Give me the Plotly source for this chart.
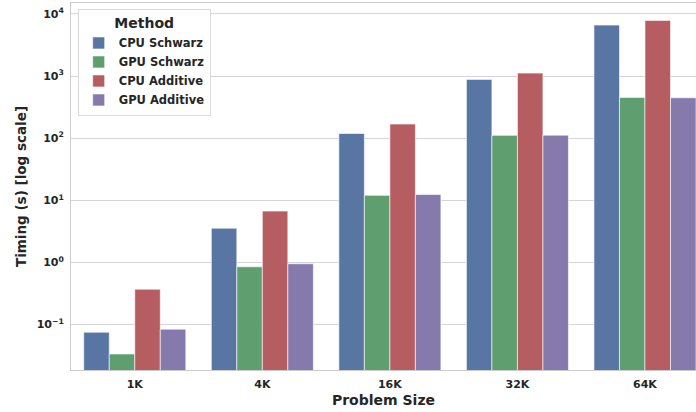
import plotly.graph_objects as go

categories = ["1K", "4K", "16K", "32K", "64K"]
methods = ["CPU Schwarz", "GPU Schwarz", "CPU Additive", "GPU Additive"]
cpu_schwarz = [0.075, 3.55, 119, 885, 6630]
gpu_schwarz = [0.0335, 0.85, 12.0, 111, 454]
cpu_additive = [0.37, 6.7, 169, 1117, 7890]
gpu_additive = [0.084, 0.95, 12.4, 112, 447]
series = [cpu_schwarz, gpu_schwarz, cpu_additive, gpu_additive]
colors = ["#5975A4", "#5F9E6E", "#B55D60", "#857AAB"]

ytickvals = [0.1, 1, 10, 100, 1000, 10000]
yticktext = ["10<sup>−1</sup>", "10<sup>0</sup>", "10<sup>1</sup>", "10<sup>2</sup>", "10<sup>3</sup>", "10<sup>4</sup>"]

FONT = "DejaVu Sans"
fig = go.Figure()
for name, vals, c in zip(methods, series, colors):
    fig.add_trace(go.Bar(
        x=list(range(len(categories))), y=vals, name=name,
        marker=dict(color=c, line=dict(color="rgba(255,255,255,0.6)", width=1)),
    ))

fig.update_layout(
    width=696, height=412,
    margin=dict(l=71, r=0, t=3, b=42, autoexpand=False),
    paper_bgcolor="white", plot_bgcolor="white",
    barmode="group", bargap=0.2, bargroupgap=0,
    font=dict(family=FONT, color="#262626"),
    showlegend=True,
    legend=dict(
        x=0.0107, y=0.983, xanchor="left", yanchor="top",
        bgcolor="rgba(255,255,255,0.9)", bordercolor="#d9d9d9", borderwidth=1,
        title=dict(text="Method", side="top center", font=dict(size=14, family=FONT, weight="bold")),
        font=dict(size=11.5, family=FONT, weight="bold"),
        itemwidth=30, tracegroupgap=0,
    ),
    xaxis=dict(
        range=[-0.5, 4.4], automargin=False,
        tickmode="array", tickvals=list(range(len(categories))),
        ticktext=categories, ticklabelstandoff=4,
        tickfont=dict(size=11, family=FONT, weight="bold"),
        showgrid=False, showline=True, linecolor="#cccccc", linewidth=1, mirror=True,
        ticks="", zeroline=False,
        title=dict(text="Problem Size", font=dict(size=14, family=FONT, weight="bold"), standoff=4),
    ),
    yaxis=dict(
        type="log", range=[-1.733, 4.177], automargin=False,
        tickmode="array", tickvals=ytickvals, ticktext=yticktext, ticklabelstandoff=4,
        tickfont=dict(size=11, family=FONT, weight="bold"),
        showgrid=True, gridcolor="#d5d5d5", gridwidth=1,
        showline=True, linecolor="#cccccc", linewidth=1,
        ticks="", zeroline=False,
        title=dict(text="Timing (s) [log scale]", font=dict(size=13.5, family=FONT, weight="bold"), standoff=6),
    ),
)

fig.write_html("out.html", config={"displayModeBar": False},
               post_script="document.body.style.margin='0';")
